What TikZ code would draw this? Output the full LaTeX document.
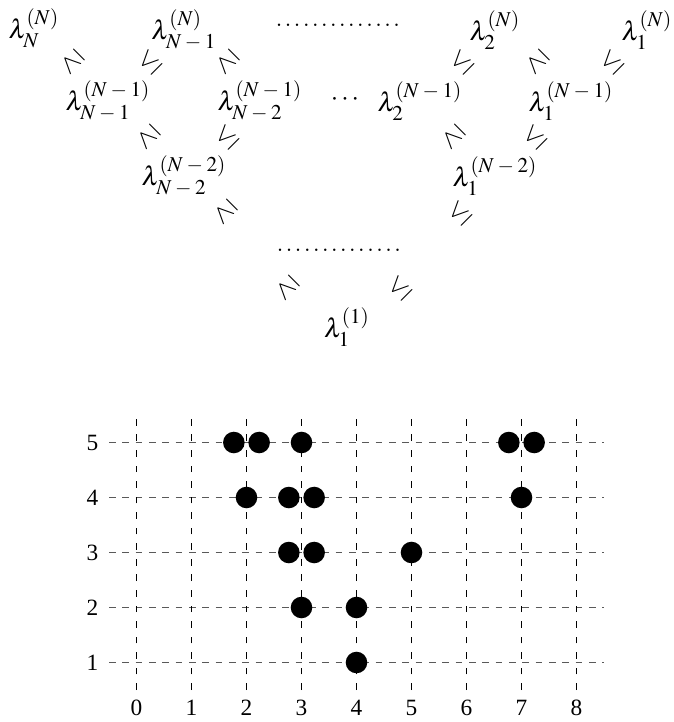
\documentclass[tikz,border=0pt]{standalone}
\usepackage{mathptmx}
\usepackage[no-math]{fontspec}
\setmainfont{Liberation Serif}
\DeclareMathSizes{12}{12}{9.5}{7}
\DeclareMathSizes{10.5}{10.5}{8}{6}
\newcommand{\mn}{\mkern3mu-\mkern3mu}
\begin{document}
\begin{tikzpicture}[x=0.45pt,y=-0.45pt,
  lam/.style={inner sep=0pt,font=\fontsize{12}{14}\selectfont},
  dotrow/.style={inner sep=0pt,font=\fontsize{10.5}{12}\selectfont},
  geA/.style={inner sep=0pt,rotate=135,font=\fontsize{12}{14}\selectfont},
  leB/.style={inner sep=0pt,rotate=45,font=\fontsize{12}{14}\selectfont},
  hline/.style={black!65,line width=0.45pt,dash pattern=on 3pt off 3pt},
  vline/.style={black,line width=0.45pt,dash pattern=on 3pt off 4pt},
  tick/.style={inner sep=0pt,font=\fontsize{10.5}{13}\selectfont},
  dot/.style={circle,fill=black,inner sep=0pt,minimum size=9.7pt}]
\useasboundingbox (0,0) rectangle (674,722);
% --- top triangle ---
\node[lam] (l11) at (34,28) {$\lambda_N^{(N)}$};
\node[lam] (l12) at (184,30) {$\lambda_{N\mn1}^{(N)}$};
\node[dotrow] (d1) at (338,25) {$\ldots\ldots\ldots\ldots\ldotp\ldotp$};
\node[lam] (l13) at (495,30) {$\lambda_2^{(N)}$};
\node[lam] (l14) at (647,30) {$\lambda_1^{(N)}$};
\node[lam] (l21) at (108,101) {$\lambda_{N\mn1}^{(N\mn1)}$};
\node[lam] (l22) at (260,101) {$\lambda_{N\mn2}^{(N\mn1)}$};
\node[lam] (c2) at (345,100) {$\cdots$};
\node[lam] (l23) at (420,101) {$\lambda_2^{(N\mn1)}$};
\node[lam] (l24) at (571,101) {$\lambda_1^{(N\mn1)}$};
\node[lam] (l31) at (184,176) {$\lambda_{N\mn2}^{(N\mn2)}$};
\node[lam] (l32) at (495,176) {$\lambda_1^{(N\mn2)}$};
\node[dotrow] (d2) at (339,250) {$\ldots\ldots\ldots\ldots\ldotp\ldotp$};
\node[lam] (l4) at (347,327) {$\lambda_1^{(1)}$};
% relations
\node[geA] (a1) at (72,62) {$\geq$};
\node[leB] (b1) at (150,62) {$\leq$};
\node[geA] (a2) at (227,62) {$\geq$};
\node[leB] (b3) at (462,62) {$\leq$};
\node[geA] (a5) at (537,62) {$\geq$};
\node[leB] (b4) at (612,62) {$\leq$};
\node[geA] (a3) at (148,137) {$\geq$};
\node[leB] (b2) at (227,137) {$\leq$};
\node[geA] (a6) at (453,137) {$\geq$};
\node[leB] (b5) at (535,137) {$\leq$};
\node[geA] (a7) at (225,212) {$\geq$};
\node[leB] (b6) at (460,213) {$\leq$};
\node[geA] (a8) at (287,288) {$\geq$};
\node[leB] (b7) at (400,288) {$\leq$};
% --- grid ---
\begin{scope}[xshift=61.425pt,yshift=-322.875pt,x=24.75pt,y=24.75pt]
  \foreach \j in {1,...,5} {
    \draw[hline] (-0.5,\j) -- (8.5,\j);
    \node[tick] (yl\j) at (-0.8,\j) {\j};
  }
  \foreach \i in {0,...,8} {
    \draw[vline] (\i,0.5) -- (\i,5.5);
    \node[tick] (xl\i) at (\i,0.18) {\i};
  }
  \foreach \x/\y [count=\k] in {1.77/5,2.23/5,3/5,6.77/5,7.23/5,
      2/4,2.77/4,3.23/4,7/4, 2.77/3,3.23/3,5/3, 3/2,4/2, 4/1}
    \node[dot] (p\k) at (\x,\y) {};
\end{scope}
\end{tikzpicture}
\end{document}
